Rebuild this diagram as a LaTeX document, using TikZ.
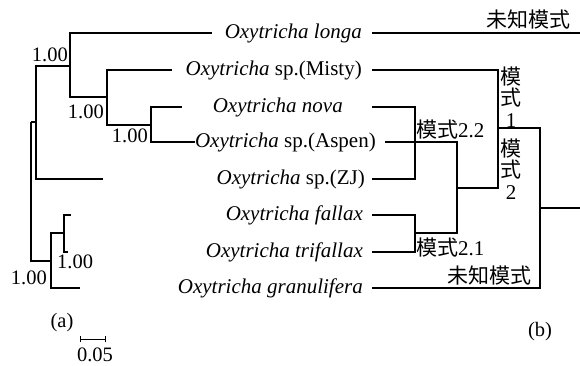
\documentclass[tikz,border=0pt]{standalone}
\usepackage{fontspec}
\setmainfont{Liberation Serif}
\newfontfamily\cjk{Noto Sans CJK SC}

\begin{document}
\begin{tikzpicture}[x=1pt,y=-1pt,
        branch/.style={
            line width=1.9pt, % tree lines
            line join=miter
        },
        taxon/.style={
            font=\fontsize{21}{21}\selectfont,
            inner sep=0pt,
            anchor=east
        },
        support/.style={
            font=\fontsize{20.5}{20.5}\selectfont,
            inner sep=0pt
        },
        mode/.style={
            font=\fontsize{21}{21.5}\selectfont\cjk,
            inner sep=0pt
        }
    ]
\useasboundingbox (0,0) rectangle (580,366);

% Taxon names
\node[taxon] (longa) at (362,33) {\textit{Oxytricha longa}};
\node[taxon] (misty) at (362,70) {\textit{Oxytricha} sp.(Misty)};
\node[taxon] (nova) at (343,107) {\textit{Oxytricha nova}};
\node[taxon] (aspen) at (376,142) {\textit{Oxytricha} sp.(Aspen)};
\node[taxon] (zj) at (365,179) {\textit{Oxytricha} sp.(ZJ)};
\node[taxon] (fallax) at (363,215) {\textit{Oxytricha fallax}};
\node[taxon] (trifallax) at (363,252) {\textit{Oxytricha trifallax}};
\node[taxon] (gran) at (363,288) {\textit{Oxytricha granulifera}};

% (a) tree: inner nodes
\coordinate (ra) at (31,122);
\coordinate (ca) at (36,122);
\coordinate (na) at (70,66);
\coordinate (nb) at (107,97);
\coordinate (nc) at (151,125);
\coordinate (nd) at (51,261);
\coordinate (ne) at (64,233);
% (a) tree: tips
\coordinate (ta-longa) at (212,33);
\coordinate (ta-misty) at (172,70);
\coordinate (ta-nova) at (182,107);
\coordinate (ta-aspen) at (aspen.west);
\coordinate (ta-zj) at (103,179);
\coordinate (ta-fallax) at (71,215);
\coordinate (ta-trifallax) at (68,252);
\coordinate (ta-gran) at (80,288);

\draw[branch] (ra) -- (ca);
\draw[branch] (ra) |- (nd);
\draw[branch] (ca) |- (na);
\draw[branch] (ca) |- (ta-zj);
\draw[branch] (na) |- (ta-longa);
\draw[branch] (na) |- (nb);
\draw[branch] (nb) |- (ta-misty);
\draw[branch] (nb) |- (nc);
\draw[branch] (nc) |- (ta-nova);
\draw[branch] (nc) |- (ta-aspen);
\draw[branch] (nd) |- (ne);
\draw[branch] (nd) |- (ta-gran);
\draw[branch] (ne) |- (ta-fallax);
\draw[branch] (ne) |- (ta-trifallax);

% support values
\node[support, anchor=east] (sa) at (68,55) {1.00};
\node[support, anchor=east] (sb) at (104,112) {1.00};
\node[support, anchor=east] (sc) at (148,136) {1.00};
\node[support, anchor=west] (se) at (57,262) {1.00};
\node[support, anchor=east] (sd) at (47,278) {1.00};

% scale bar
\coordinate (bar-l) at (80,339);
\coordinate (bar-r) at (105,339);
\draw[line width=0.9pt] (bar-l) -- (bar-r);
\draw[line width=0.9pt] ([yshift=-3]bar-l) -- ([yshift=3]bar-l);
\draw[line width=0.9pt] ([yshift=-3]bar-r) -- ([yshift=3]bar-r);
\node[support] (barlabel) at (95,355) {0.05};
\node[support] (panela) at (62,323) {(a)};

% (b) tree
\coordinate (tb-longa) at (372,33);
\coordinate (tb-misty) at (372,70);
\coordinate (tb-nova) at (372,107);
\coordinate (tb-aspen) at (385,142);
\coordinate (tb-zj) at (372,179);
\coordinate (tb-fallax) at (372,215);
\coordinate (tb-trifallax) at (372,252);
\coordinate (tb-gran) at (372,288);
\coordinate (end-longa) at (580,33);
\coordinate (p1) at (498,128);
\coordinate (m1) at (498,188);
\coordinate (q) at (457,188);
\coordinate (qlow) at (457,233);
\coordinate (r21) at (415,233);
\coordinate (r22) at (415,143);
\coordinate (rootb) at (540,208);
\coordinate (end-root) at (580,208);

\draw[branch] (tb-longa) -- (end-longa);
\draw[branch] (tb-misty) -| (m1) -- (q);
\draw[branch] (tb-aspen) -| (qlow) -- (r21);
\draw[branch] (tb-fallax) -| (r21);
\draw[branch] (tb-trifallax) -| (r21);
\draw[branch] (tb-nova) -| (r22) |- (tb-zj);
\draw[branch] (p1) -| (rootb);
\draw[branch] (tb-gran) -| (rootb);
\draw[branch] (rootb) -- (end-root);

% mode labels
\node[mode, anchor=east] (unk1) at (571,20) {未知模式};
\node[mode, align=center] (mode1) at (511,97) {模\\式\\\rmfamily 1};
\node[mode, align=center] (mode2) at (511,169) {模\\式\\\rmfamily 2};
\node[mode, anchor=west] (mode22) at (416,130) {模式\rmfamily 2.2};
\node[mode, anchor=west] (mode21) at (416,248) {模式\rmfamily 2.1};
\node[mode, anchor=east] (unk2) at (532,276) {未知模式};
\node[support] (panelb) at (540,332) {(b)};

\end{tikzpicture}
\end{document}
